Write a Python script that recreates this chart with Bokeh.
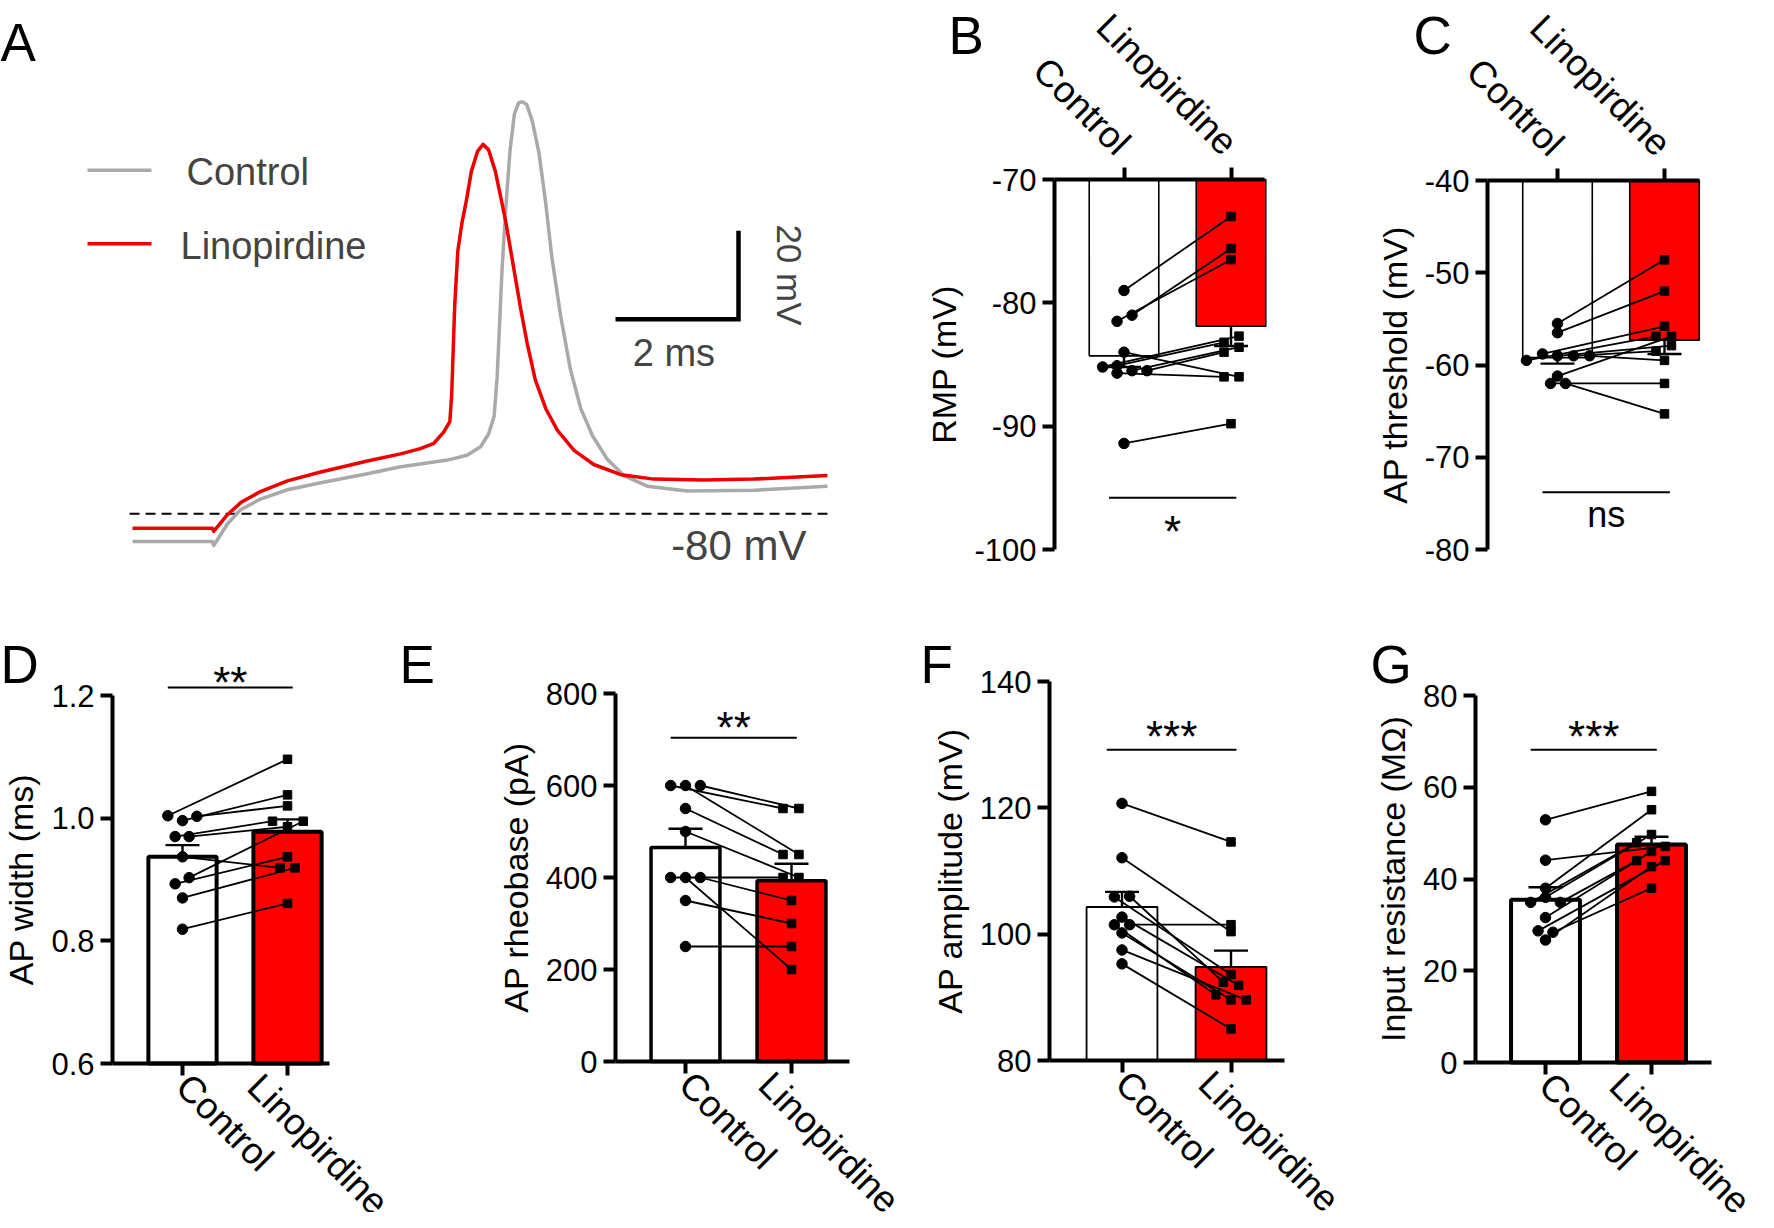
import math
from bokeh.plotting import figure
from bokeh.layouts import row, column
from bokeh.models import Range1d, FixedTicker, Label, CustomJSTickFormatter
from bokeh.embed import file_html
from bokeh.resources import INLINE

FONT = "Liberation Sans"
RED = "#ff0000"
TRACE_RED = "#ee0000"
GRAY = "#a9a9a9"

# ---------------- Panel A: example action potentials (ms, mV) ----------------
trace_ctrl_t = [0.0, 1.30, 1.32, 1.54, 1.76, 2.08, 2.52, 3.06, 3.82, 4.36, 4.68,
                5.12, 5.44, 5.66, 5.79, 5.88, 5.93, 5.97, 6.01, 6.07, 6.14, 6.21,
                6.28, 6.34, 6.41, 6.50, 6.61, 6.72, 6.82, 6.96, 7.12, 7.29, 7.48,
                7.72, 7.99, 8.37, 9.02, 10.10, 11.30]
trace_ctrl_v = [-86.3, -86.3, -87.2, -82.4, -79.1, -76.7, -74.6, -73.0, -71.0, -69.4, -68.8,
                -67.9, -66.8, -64.9, -62.0, -58.0, -49.0, -36.8, -24.6, -10.8, 2.2, 10.3,
                12.8, 13.0, 12.4, 8.7, 1.4, -10.0, -22.2, -35.2, -47.4, -56.3, -62.4,
                -67.7, -71.4, -73.8, -74.9, -74.7, -73.8]
trace_lino_t = [0.0, 1.30, 1.32, 1.54, 1.76, 2.08, 2.52, 3.06, 3.82, 4.36, 4.68,
                4.90, 5.06, 5.16, 5.19, 5.21, 5.24, 5.29, 5.36, 5.43, 5.51, 5.61,
                5.70, 5.79, 5.90, 5.98, 6.07, 6.15, 6.23, 6.31, 6.42, 6.55, 6.72,
                6.91, 7.18, 7.50, 7.94, 8.48, 9.29, 10.10, 11.30]
trace_lino_v = [-83.3, -83.3, -84.0, -80.3, -77.5, -75.0, -72.6, -70.6, -68.1, -66.5, -65.3,
                -64.1, -61.6, -59.2, -53.1, -45.0, -32.8, -20.6, -14.1, -9.2, -2.7, 1.8,
                3.4, 2.2, -2.7, -8.0, -14.1, -20.6, -27.1, -33.6, -41.7, -49.8, -56.3,
                -61.2, -65.7, -68.9, -71.2, -72.2, -72.4, -72.2, -71.4]
trace_labels = ["Control", "Linopirdine"]
baseline_mv = -80

groups = ["Control", "Linopirdine"]

# ---------------- B: RMP (mV) ----------------
rmp_ctrl = [-79.0, -81.0, -81.5, -84.0, -85.2, -85.1, -85.5, -85.5, -85.7, -91.4]
rmp_lino = [-73.0, -75.6, -76.5, -86.0, -82.7, -83.2, -83.6, -84.0, -86.0, -89.8]
rmp_mean = [-84.3, -81.9]
rmp_sem = [0.9, 1.6]
rmp_ticks = [-100, -90, -80, -70]

# ---------------- C: AP threshold (mV) ----------------
thr_ctrl = [-55.5, -56.5, -59.5, -58.8, -59.0, -59.0, -59.0, -61.2, -62.0, -62.0]
thr_lino = [-48.6, -52.0, -56.9, -55.8, -57.9, -58.5, -59.5, -56.9, -62.0, -65.3]
thr_mean = [-59.2, -57.3]
thr_sem = [0.65, 1.5]
thr_ticks = [-80, -70, -60, -50, -40]

# ---------------- D: AP width (ms) ----------------
wid_ctrl = [1.004, 0.996, 1.003, 0.970, 0.970, 0.937, 0.903, 0.893, 0.870, 0.819]
wid_lino = [1.096, 1.038, 1.020, 0.995, 0.986, 0.919, 0.995, 0.937, 0.919, 0.861]
wid_mean = [0.937, 0.978]
wid_sem = [0.019, 0.020]
wid_ticks = [0.6, 0.8, 1.0, 1.2]

# ---------------- E: AP rheobase (pA) ----------------
rheo_ctrl = [600, 600, 600, 550, 500, 400, 400, 400, 350, 250]
rheo_lino = [550, 450, 550, 450, 400, 400, 200, 350, 300, 250]
rheo_mean = [465, 393]
rheo_sem = [41, 37]
rheo_ticks = [0, 200, 400, 600, 800]

# ---------------- F: AP amplitude (mV) ----------------
amp_ctrl = [120.7, 112.1, 106.0, 105.9, 102.7, 101.5, 101.5, 100.2, 97.5, 95.3]
amp_lino = [114.6, 100.4, 92.4, 93.6, 91.9, 90.4, 101.5, 89.6, 89.6, 85.0]
amp_mean = [104.3, 94.8]
amp_sem = [2.4, 2.6]
amp_ticks = [80, 100, 120, 140]

# ---------------- G: input resistance (MOhm) ----------------
res_ctrl = [52.9, 44.1, 38.0, 36.0, 34.9, 34.9, 31.6, 28.7, 28.4, 26.7]
res_lino = [59.1, 47.1, 55.1, 49.7, 47.9, 44.0, 46.0, 44.0, 38.0, 42.7]
res_mean = [35.5, 47.5]
res_sem = [2.7, 1.7]
res_ticks = [0, 20, 40, 60, 80]

# horizontal scatter offsets of the dots (layout only, category units)
rmp_ctrl_dx = [0, 0.075, -0.065, 0, -0.2, -0.065, 0.075, 0.215, -0.065, 0]
rmp_lino_dx = [0, 0, 0, 0.075, 0.075, -0.065, 0.075, -0.065, -0.065, 0]
thr_ctrl_dx = [0, 0, -0.29, -0.14, 0, 0.15, 0.30, 0, -0.065, 0.075]
thr_lino_dx = [0, 0, -0.08, 0, 0.065, -0.08, 0, 0.065, 0, 0]
wid_ctrl_dx = [-0.14, 0, 0.137, -0.07, 0.063, 0, 0.063, -0.07, 0, 0]
wid_lino_dx = [0, 0, 0, -0.143, 0, -0.07, 0.15, 0, 0.073, 0]
rheo_ctrl_dx = [-0.14, 0, 0.14, 0, 0, -0.14, 0, 0.14, 0, 0]
rheo_lino_dx = [-0.08, 0.07, 0.07, -0.08, 0.07, -0.08, 0, 0, 0, 0]
amp_ctrl_dx = [0, 0, 0.07, -0.07, 0, -0.07, 0.07, 0, 0, 0]
amp_lino_dx = [0, 0, -0.07, 0, 0.07, -0.14, 0, 0, 0.14, 0]
res_ctrl_dx = [0, 0, 0, 0, -0.14, 0.14, 0, -0.07, 0.07, 0]
res_lino_dx = [0, 0.13, 0, 0, -0.14, -0.14, 0, 0.13, 0, 0]

# global layout nudge (pixels)
GDX, GDY = 7, 5
ROW_SPLIT = 585   # page y where the lower row of panels begins


def base_figure(fl, fr, ft, fb, xr, yr, xloc="below", yloc="left"):
    p = figure(frame_width=fr - fl, frame_height=fb - ft, min_border=0,
               x_range=Range1d(*xr), y_range=Range1d(*yr),
               x_axis_location=xloc, y_axis_location=yloc,
               output_backend="svg", toolbar_location=None)
    p.outline_line_color = None
    p.grid.visible = False
    p.background_fill_color = "white"
    p.border_fill_color = "white"
    if "frame_align" in p.properties():
        p.frame_align = False
    return p


def add_letter(p, text, abs_x, abs_base, fl, fb):
    p.add_layout(Label(x=abs_x - fl, y=fb - abs_base, x_units="screen", y_units="screen",
                       text=text, text_font=FONT, text_font_size="53px", text_color="black",
                       text_align="left", text_baseline="alphabetic"))


def bar_panel(ctrl, ctrl_dx, lino, lino_dx, mean, sem, ticks, ylabel, digits,
              box, c0, spacing, axis_px, xend_px, py_lo, py_hi,
              bar_lw, sig_y, sig_text, sig_off, sig_size, letter, letter_x, letter_base,
              hanging=False):
    fl, fr, ft, fb = box
    c0, axis_px, xend_px = c0 + GDX, axis_px + GDX, xend_px + GDX
    py_lo, py_hi = py_lo + GDY, py_hi + GDY
    v_lo, v_hi = min(ticks), max(ticks)
    k = (py_lo - py_hi) / (v_hi - v_lo)

    def xd(px):
        return (px - c0) / spacing

    def yd(py):
        return v_lo + (py_lo - py) / k

    p = base_figure(fl, fr, ft, fb, (xd(fl), xd(fr)), (yd(fb), yd(ft)),
                    xloc="above" if hanging else "below")
    for ax in p.axis:
        ax.axis_line_width = 4
        ax.axis_line_color = "black"
        ax.major_tick_line_width = 4
        ax.major_tick_line_color = "black"
        ax.major_tick_out = 12
        ax.major_tick_in = 0
        ax.minor_tick_line_color = None
        ax.major_label_text_font = FONT
        ax.major_label_text_color = "black"
        ax.axis_label_text_font = FONT
        ax.axis_label_text_font_style = "normal"
        ax.axis_label_text_color = "black"
    xa = p.xaxis[0]
    xa.ticker = FixedTicker(ticks=[0, 1])
    xa.major_label_overrides = {0: groups[0], 1: groups[1]}
    xa.major_label_orientation = -math.pi / 4
    xa.major_label_text_font_size = "37px"
    xa.major_label_standoff = 19 if hanging else 5
    xa.fixed_location = v_hi if hanging else v_lo
    xa.bounds = (xd(axis_px), xd(xend_px))
    ya = p.yaxis[0]
    ya.ticker = FixedTicker(ticks=ticks)
    ya.formatter = CustomJSTickFormatter(code="return tick.toFixed(%d)" % digits)
    ya.major_label_text_font_size = "31px"
    ya.major_label_standoff = 6
    ya.axis_label = ylabel
    ya.axis_label_text_font_size = "34px"
    ya.axis_label_standoff = 8
    ya.fixed_location = xd(axis_px)
    ya.bounds = (v_lo, v_hi)

    base = v_hi if hanging else v_lo
    xs = [0, 1]
    p.vbar(x=xs, width=0.65, bottom=base, top=mean, fill_color=["white", RED],
           line_color="black", line_width=bar_lw)
    sign = -1 if hanging else 1
    ends = [m + sign * s for m, s in zip(mean, sem)]
    cw = 17.0 / spacing
    p.segment(x0=xs, y0=mean, x1=xs, y1=ends, line_color="black", line_width=2.4)
    p.segment(x0=[x - cw for x in xs], y0=ends, x1=[x + cw for x in xs], y1=ends,
              line_color="black", line_width=2.4)
    cx = [0 + d for d in ctrl_dx]
    lx = [1 + d for d in lino_dx]
    p.segment(x0=cx, y0=ctrl, x1=lx, y1=lino, line_color="black", line_width=1.8)
    p.scatter(cx, ctrl, marker="circle", size=10.5, color="black")
    p.scatter(lx, lino, marker="square", size=8.5, color="black")
    # significance bar
    p.segment(x0=[-0.14], y0=[sig_y], x1=[1.05], y1=[sig_y], line_color="black", line_width=2)
    p.add_layout(Label(x=0.455, y=sig_y, y_offset=sig_off, text=sig_text, text_align="center",
                       text_baseline="alphabetic", text_font=FONT, text_font_size=sig_size,
                       text_color="black"))
    add_letter(p, letter, letter_x, letter_base, fl, fb)
    return p


# ---------------- Panel A figure ----------------
A_BOX = (8, 900, 8, ROW_SPLIT)
px_per_ms, px_per_mv = 61.5, 4.1
t0_px, vbase_px = 132, 477
A_DX, A_SY, A_DY = 8.0, 1.08, 6.0   # screen placement of the trace panel


def ax_(px):
    return (px - t0_px) / px_per_ms


def ay_(py):
    return baseline_mv + (vbase_px - py) / px_per_mv


pa = base_figure(*A_BOX,
                 (ax_(A_BOX[0] - A_DX), ax_(A_BOX[1] - A_DX)),
                 (ay_((A_BOX[3] - A_DY) / A_SY), ay_((A_BOX[2] - A_DY) / A_SY)),
                 xloc=None, yloc=None)
pa.segment(x0=[ax_(129)], y0=[baseline_mv], x1=[trace_ctrl_t[-1]], y1=[baseline_mv],
           line_color="black", line_width=2, line_dash="10 6")
pa.line(trace_ctrl_t, trace_ctrl_v, line_color=GRAY, line_width=3.5, line_join="round")
pa.line(trace_lino_t, trace_lino_v, line_color=TRACE_RED, line_width=3.5, line_join="round")
# scale bar: 2 ms x 20 mV
sb_t, sb_v = ax_(615), ay_(297)
pa.line([sb_t, sb_t + 2, sb_t + 2], [sb_v, sb_v, sb_v + 20], line_color="black",
        line_width=4.5, line_join="miter")
pa.add_layout(Label(x=sb_t + 0.95, y=ay_(309), text="2 ms", text_align="center",
                    text_baseline="top", text_font=FONT, text_font_size="38px"))
pa.add_layout(Label(x=ax_(789), y=sb_v + 10, text="20 mV", text_align="center",
                    text_baseline="middle", angle=-math.pi / 2, text_font=FONT,
                    text_font_size="35px"))
pa.add_layout(Label(x=ax_(806), y=ay_(485), text="-80 mV", text_align="right",
                    text_baseline="top", text_font=FONT, text_font_size="42px"))
# legend
for lab, col, ly, tx in [(trace_labels[0], GRAY, 159, 186), (trace_labels[1], TRACE_RED, 227, 180)]:
    pa.segment(x0=[ax_(87)], y0=[ay_(ly)], x1=[ax_(151)], y1=[ay_(ly)], line_color=col, line_width=3.5)
    pa.add_layout(Label(x=ax_(tx), y=ay_(ly + 2), text=lab, text_align="left", text_baseline="middle",
                        text_font=FONT, text_font_size="38px"))
add_letter(pa, "A", 8, 50, A_BOX[0], A_BOX[3])

# ---------------- Top row B, C ----------------
pb = bar_panel(rmp_ctrl, rmp_ctrl_dx, rmp_lino, rmp_lino_dx, rmp_mean, rmp_sem, rmp_ticks,
               "RMP (mV)", 0, (900, 1330, 8, ROW_SPLIT), 1124.5, 107, 1055, 1265, 552, 182,
               1.6, -95.8, "*", -34, "44px", "B", 956, 43, hanging=True)
pc = bar_panel(thr_ctrl, thr_ctrl_dx, thr_lino, thr_lino_dx, thr_mean, thr_sem, thr_ticks,
               "AP threshold (mV)", 0, (1330, 1766, 8, ROW_SPLIT), 1558, 107, 1488, 1700, 552, 183,
               1.6, -73.8, "ns", -22, "36px", "C", 1421, 43, hanging=True)

# ---------------- Bottom row D-G ----------------
pd_ = bar_panel(wid_ctrl, wid_ctrl_dx, wid_lino, wid_lino_dx, wid_mean, wid_sem, wid_ticks,
                "AP width (ms)", 1, (8, 404, ROW_SPLIT, 1220), 183, 105, 113, 330, 1066, 698,
                4, 1.213, "**", 5, "44px", "D", 8, 672)
pe = bar_panel(rheo_ctrl, rheo_ctrl_dx, rheo_lino, rheo_lino_dx, rheo_mean, rheo_sem, rheo_ticks,
               "AP rheobase (pA)", 0, (404, 915, ROW_SPLIT, 1220), 686, 106, 616, 850, 1064, 696,
               3.5, 704, "**", 10, "44px", "E", 407, 672)
pf = bar_panel(amp_ctrl, amp_ctrl_dx, amp_lino, amp_lino_dx, amp_mean, amp_sem, amp_ticks,
               "AP amplitude (mV)", 0, (915, 1355, ROW_SPLIT, 1220), 1122.5, 109, 1050, 1285, 1063, 684,
               1.8, 129.2, "***", 13, "44px", "F", 928, 672)
pg = bar_panel(res_ctrl, res_ctrl_dx, res_lino, res_lino_dx, res_mean, res_sem, res_ticks,
               "Input resistance (MΩ)", 0, (1355, 1766, ROW_SPLIT, 1220), 1546, 106, 1476, 1712, 1065, 698,
               4, 68.2, "***", 13, "44px", "G", 1378, 672)

layout = column(row(pa, pb, pc), row(pd_, pe, pf, pg))
open("out.html", "w").write(file_html(layout, INLINE))
